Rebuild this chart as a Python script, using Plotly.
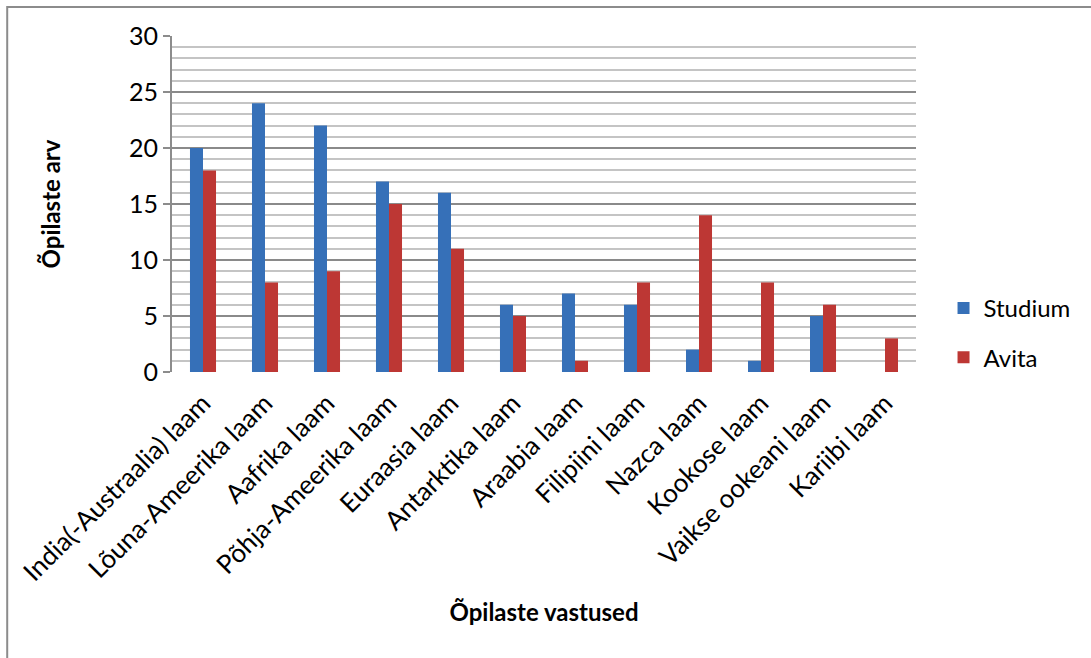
import plotly.graph_objects as go

# Plate names (categories) and answer counts per school
plates = [
    "India(-Austraalia) laam", "Lõuna-Ameerika laam", "Aafrika laam",
    "Põhja-Ameerika laam", "Euraasia laam", "Antarktika laam",
    "Araabia laam", "Filipiini laam", "Nazca laam", "Kookose laam",
    "Vaikse ookeani laam", "Kariibi laam",
]
studium = [20, 24, 22, 17, 16, 6, 7, 6, 2, 1, 5, 0]
avita = [18, 8, 9, 15, 11, 5, 1, 8, 14, 8, 6, 3]
y_ticks = [0, 5, 10, 15, 20, 25, 30]

FONT = "Lato"

fig = go.Figure()
fig.add_trace(go.Bar(
    x=plates, y=studium, name="Studium", legendgroup="s",
    marker=dict(color="#3670b8", line=dict(width=0)),
))
fig.add_trace(go.Bar(
    x=plates, y=avita, name="Avita", legendgroup="a",
    marker=dict(color="#bd3734", line=dict(width=0)),
))

fig.update_layout(
    width=1091, height=658,
    margin=dict(l=172, r=175, t=36, b=286, autoexpand=False),
    paper_bgcolor="white", plot_bgcolor="white",
    barmode="group", bargap=0.58, bargroupgap=0,
    font=dict(family=FONT, size=25, color="black"),
    showlegend=True,
    legend=dict(
        x=1.037, y=0.116, xanchor="left", yanchor="middle",
        traceorder="grouped", tracegroupgap=15,
        font=dict(family=FONT, size=24),
        itemwidth=30,
    ),
)

fig.update_xaxes(
    tickangle=-45, tickfont=dict(family=FONT, size=26),
    ticklabelstandoff=10, automargin=False,
    showline=False, ticks="", showgrid=False,
    title=dict(text="<b>Õpilaste vastused</b>",
               font=dict(family=FONT, size=24), standoff=18),
)
fig.update_yaxes(
    range=[0, 30], tickvals=y_ticks, ticktext=[str(v) for v in y_ticks],
    automargin=False,
    showline=True, linecolor="#8c8c8c", linewidth=2,
    ticks="outside", ticklen=7, tickcolor="#8c8c8c", tickwidth=2,
    showgrid=True, gridcolor="#8a8a8a", gridwidth=2,
    minor=dict(dtick=1, showgrid=True, gridcolor="#c4c4c4", gridwidth=1.5,
               ticks=""),
    zeroline=False,
    tickfont=dict(family=FONT, size=25),
    title=dict(text="<b>Õpilaste arv</b>",
               font=dict(family=FONT, size=24), standoff=62),
)

# Outer chart frame
fig.add_shape(type="rect", xref="paper", yref="paper",
              x0=-0.2215, y0=-0.93, x1=1.3, y1=1.0863,
              line=dict(color="#8c8c8c", width=2), layer="below")

fig.write_html("out.html")
